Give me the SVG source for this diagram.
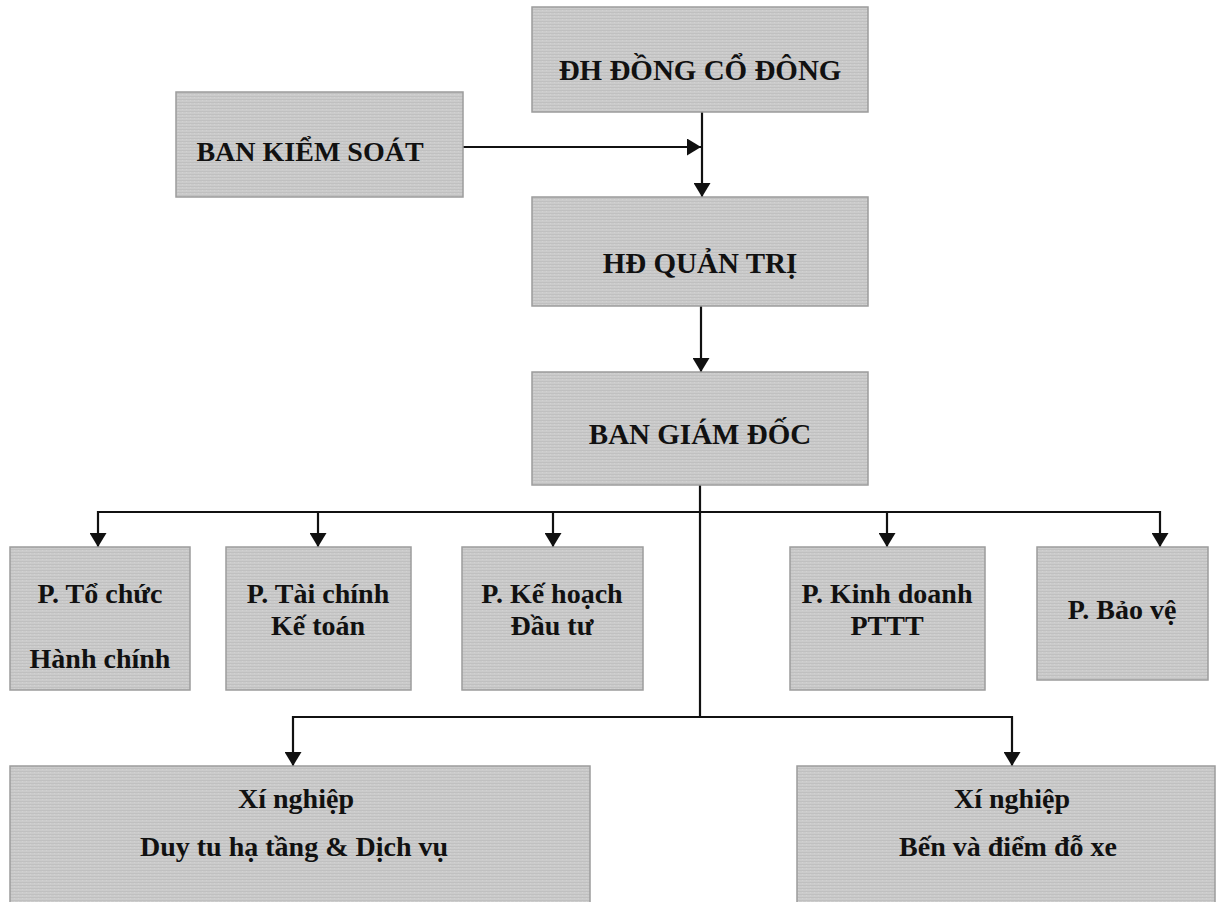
<svg xmlns="http://www.w3.org/2000/svg" width="1220" height="902" viewBox="0 0 1220 902">
<style>
.box{fill:url(#tex);stroke:#9c9c9c;stroke-width:1.5}
.t{font-family:"Liberation Serif","DejaVu Serif",serif;font-weight:bold;font-size:28px;fill:#111;text-anchor:middle}
.big{font-size:29px}
.ln{stroke:#111;stroke-width:2.2;fill:none}
</style>
<defs>
<pattern id="tex" width="4" height="3" patternUnits="userSpaceOnUse">
<rect width="4" height="3" fill="#cbcbcb"/>
<rect width="4" height="1" fill="#c0c0c0"/>
<rect x="2" y="1" width="1" height="1" fill="#d2d2d2"/>
</pattern>
<marker id="ah" markerWidth="14" markerHeight="17" refX="14" refY="8.5" orient="auto" markerUnits="userSpaceOnUse">
<path d="M0,0 L14,8.5 L0,17 Z" fill="#111"/>
</marker>
</defs>
<rect width="1220" height="902" fill="#ffffff"/>
<g id="connectors">
<line class="ln" x1="463" y1="147" x2="701" y2="147" marker-end="url(#ah)"/>
<line class="ln" x1="702" y1="112" x2="702" y2="197" marker-end="url(#ah)"/>
<line class="ln" x1="701" y1="306" x2="701" y2="372" marker-end="url(#ah)"/>
<line class="ln" x1="700" y1="485" x2="700" y2="718"/>
<line class="ln" x1="98" y1="512" x2="1160" y2="512"/>
<line class="ln" x1="98" y1="511" x2="98" y2="547" marker-end="url(#ah)"/>
<line class="ln" x1="318" y1="511" x2="318" y2="547" marker-end="url(#ah)"/>
<line class="ln" x1="553" y1="511" x2="553" y2="547" marker-end="url(#ah)"/>
<line class="ln" x1="887" y1="511" x2="887" y2="547" marker-end="url(#ah)"/>
<line class="ln" x1="1160" y1="511" x2="1160" y2="547" marker-end="url(#ah)"/>
<line class="ln" x1="293" y1="717" x2="1012" y2="717"/>
<line class="ln" x1="293" y1="716" x2="293" y2="766" marker-end="url(#ah)"/>
<line class="ln" x1="1012" y1="716" x2="1012" y2="766" marker-end="url(#ah)"/>
</g>
<g id="n-dhcd">
<rect class="box" x="532" y="7" width="336" height="105"/>
<text class="t big" x="700" y="80">ĐH ĐỒNG CỔ ĐÔNG</text>
</g>
<g id="n-bks">
<rect class="box" x="176" y="92" width="287" height="105"/>
<text class="t" x="310" y="161">BAN KIỂM SOÁT</text>
</g>
<g id="n-hdqt">
<rect class="box" x="532" y="197" width="336" height="109"/>
<text class="t big" x="700" y="273">HĐ QUẢN TRỊ</text>
</g>
<g id="n-bgd">
<rect class="box" x="532" y="372" width="336" height="113"/>
<text class="t big" x="700" y="444">BAN GIÁM ĐỐC</text>
</g>
<g id="n-tchc">
<rect class="box" x="10" y="547" width="180" height="143"/>
<text class="t" x="100" y="603">P. Tổ chức</text>
<text class="t" x="100" y="668">Hành chính</text>
</g>
<g id="n-tckt">
<rect class="box" x="226" y="547" width="185" height="143"/>
<text class="t" x="318" y="603">P. Tài chính</text>
<text class="t" x="318" y="635">Kế toán</text>
</g>
<g id="n-khdt">
<rect class="box" x="462" y="547" width="181" height="143"/>
<text class="t" x="552" y="603">P. Kế hoạch</text>
<text class="t" x="552" y="635">Đầu tư</text>
</g>
<g id="n-kd">
<rect class="box" x="790" y="547" width="195" height="143"/>
<text class="t" x="887" y="603">P. Kinh doanh</text>
<text class="t" x="887" y="635">PTTT</text>
</g>
<g id="n-bv">
<rect class="box" x="1037" y="547" width="171" height="133"/>
<text class="t" x="1122" y="619">P. Bảo vệ</text>
</g>
<g id="n-xn1">
<rect class="box" x="10" y="766" width="580" height="140"/>
<text class="t" x="296" y="808">Xí nghiệp</text>
<text class="t" x="294" y="856">Duy tu hạ tầng &amp; Dịch vụ</text>
</g>
<g id="n-xn2">
<rect class="box" x="797" y="766" width="418" height="140"/>
<text class="t" x="1012" y="808">Xí nghiệp</text>
<text class="t" x="1008" y="856">Bến và điểm đỗ xe</text>
</g>
</svg>
